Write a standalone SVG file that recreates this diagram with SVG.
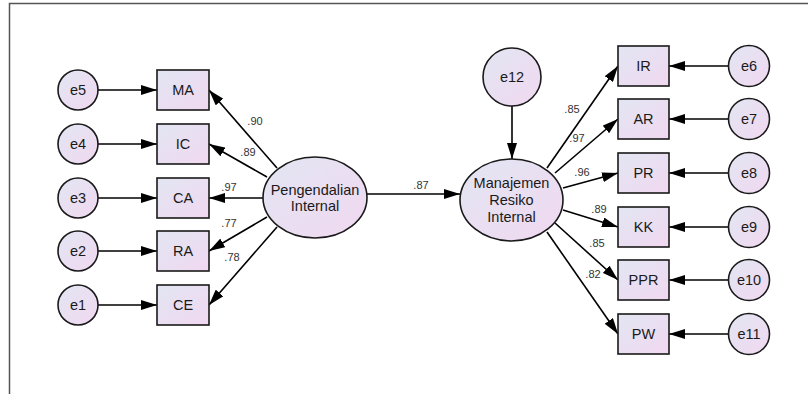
<svg xmlns="http://www.w3.org/2000/svg" width="808" height="394" viewBox="0 0 808 394">
<style>
.n{fill:url(#g);stroke:#1a1a1a;stroke-width:1.6}
.t{font-family:"Liberation Sans",Arial,sans-serif;font-size:14.5px;fill:#1a1a1a;text-anchor:middle}
.l{font-family:"Liberation Sans",Arial,sans-serif;font-size:11px;fill:#333;text-anchor:middle}
.c line{stroke:#000;stroke-width:1.6;marker-end:url(#a)}
</style>
<defs>
<linearGradient id="g" x1="0" y1="0" x2="1" y2="1">
<stop offset="0" stop-color="#e2e6f3"/>
<stop offset="1" stop-color="#f1d8f0"/>
</linearGradient>
<marker id="a" viewBox="0 0 16 10" refX="16" refY="5" markerWidth="16" markerHeight="10" markerUnits="userSpaceOnUse" orient="auto">
<path d="M0,0 L16,5 L0,10 z" fill="#000"/>
</marker>
</defs>
<rect width="808" height="394" fill="#fff"/>
<path d="M9.5,394 V3.5 H808" fill="none" stroke="#555" stroke-width="1.5"/>
<g class="c" id="connectors">
<line x1="98" y1="90" x2="157" y2="90"/>
<line x1="98" y1="144" x2="157" y2="144"/>
<line x1="98" y1="198" x2="157" y2="198"/>
<line x1="98" y1="251" x2="157" y2="251"/>
<line x1="98" y1="305" x2="157" y2="305"/>
<line x1="277" y1="168" x2="209" y2="90"/>
<line x1="267" y1="177" x2="209" y2="144"/>
<line x1="263" y1="198" x2="209" y2="198"/>
<line x1="267" y1="217" x2="209" y2="251"/>
<line x1="277" y1="227" x2="209" y2="305"/>
<line x1="367" y1="194" x2="460" y2="194"/>
<line x1="512" y1="106" x2="512" y2="159"/>
<line x1="547" y1="168" x2="618" y2="66"/>
<line x1="555" y1="173" x2="618" y2="119"/>
<line x1="563" y1="188" x2="618" y2="173"/>
<line x1="563" y1="210" x2="618" y2="227"/>
<line x1="555" y1="223" x2="618" y2="280"/>
<line x1="547" y1="232" x2="618" y2="334"/>
<line x1="728.5" y1="66" x2="669" y2="66"/>
<line x1="728.5" y1="119" x2="669" y2="119"/>
<line x1="728.5" y1="173" x2="669" y2="173"/>
<line x1="728.5" y1="227" x2="669" y2="227"/>
<line x1="728.5" y1="280" x2="669" y2="280"/>
<line x1="728.5" y1="334" x2="669" y2="334"/>
</g>
<g id="labels">
<text class="l" x="255" y="125">.90</text>
<text class="l" x="248" y="156">.89</text>
<text class="l" x="229" y="191">.97</text>
<text class="l" x="229" y="227">.77</text>
<text class="l" x="232" y="261">.78</text>
<text class="l" x="421" y="189">.87</text>
<text class="l" x="572" y="113">.85</text>
<text class="l" x="577" y="142">.97</text>
<text class="l" x="582" y="176">.96</text>
<text class="l" x="599" y="213">.89</text>
<text class="l" x="597" y="247">.85</text>
<text class="l" x="593" y="278">.82</text>
</g>
<g id="e5"><circle class="n" cx="78" cy="90" r="20"/><text class="t" x="78" y="95">e5</text></g>
<g id="e4"><circle class="n" cx="78" cy="144" r="20"/><text class="t" x="78" y="149">e4</text></g>
<g id="e3"><circle class="n" cx="78" cy="198" r="20"/><text class="t" x="78" y="203">e3</text></g>
<g id="e2"><circle class="n" cx="78" cy="251" r="20"/><text class="t" x="78" y="256">e2</text></g>
<g id="e1"><circle class="n" cx="78" cy="305" r="20"/><text class="t" x="78" y="310">e1</text></g>
<g id="MA"><rect class="n" x="157" y="70" width="52" height="40"/><text class="t" x="183" y="95">MA</text></g>
<g id="IC"><rect class="n" x="157" y="124" width="52" height="40"/><text class="t" x="183" y="149">IC</text></g>
<g id="CA"><rect class="n" x="157" y="178" width="52" height="40"/><text class="t" x="183" y="203">CA</text></g>
<g id="RA"><rect class="n" x="157" y="231" width="52" height="40"/><text class="t" x="183" y="256">RA</text></g>
<g id="CE"><rect class="n" x="157" y="285" width="52" height="40"/><text class="t" x="183" y="310">CE</text></g>
<g id="PI"><ellipse class="n" cx="315" cy="197.5" rx="52" ry="40.5"/><text class="t" x="315" y="195">Pengendalian</text><text class="t" x="315" y="211">Internal</text></g>
<g id="MRI"><ellipse class="n" cx="511.5" cy="200" rx="51.5" ry="41"/><text class="t" x="511.5" y="188">Manajemen</text><text class="t" x="511.5" y="205">Resiko</text><text class="t" x="511.5" y="222">Internal</text></g>
<g id="e12"><circle class="n" cx="512" cy="77" r="29"/><text class="t" x="512" y="82">e12</text></g>
<g id="IR"><rect class="n" x="618" y="46" width="51" height="40"/><text class="t" x="643.5" y="71">IR</text></g>
<g id="AR"><rect class="n" x="618" y="99" width="51" height="40"/><text class="t" x="643.5" y="124">AR</text></g>
<g id="PR"><rect class="n" x="618" y="153" width="51" height="40"/><text class="t" x="643.5" y="178">PR</text></g>
<g id="KK"><rect class="n" x="618" y="207" width="51" height="40"/><text class="t" x="643.5" y="232">KK</text></g>
<g id="PPR"><rect class="n" x="618" y="260" width="51" height="40"/><text class="t" x="643.5" y="285">PPR</text></g>
<g id="PW"><rect class="n" x="618" y="314" width="51" height="40"/><text class="t" x="643.5" y="339">PW</text></g>
<g id="e6"><circle class="n" cx="749" cy="66" r="20.5"/><text class="t" x="749" y="71">e6</text></g>
<g id="e7"><circle class="n" cx="749" cy="119" r="20.5"/><text class="t" x="749" y="124">e7</text></g>
<g id="e8"><circle class="n" cx="749" cy="173" r="20.5"/><text class="t" x="749" y="178">e8</text></g>
<g id="e9"><circle class="n" cx="749" cy="227" r="20.5"/><text class="t" x="749" y="232">e9</text></g>
<g id="e10"><circle class="n" cx="749" cy="280" r="20.5"/><text class="t" x="749" y="285">e10</text></g>
<g id="e11"><circle class="n" cx="749" cy="334" r="20.5"/><text class="t" x="749" y="339">e11</text></g>
</svg>
